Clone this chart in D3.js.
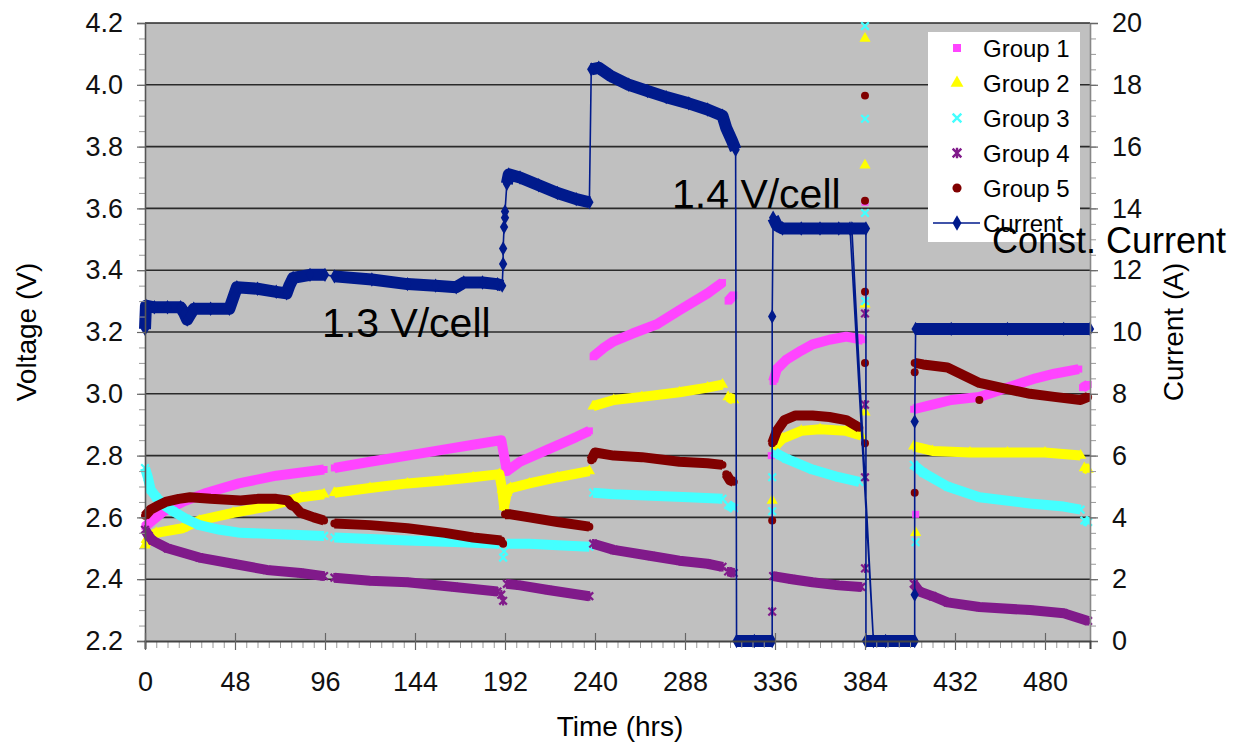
<!DOCTYPE html>
<meta charset="utf-8">
<title>Battery groups: voltage and current vs time</title>
<style>
  body { margin: 0; background: #fff; }
  svg { font-family: "Liberation Sans", Arial, sans-serif; }
</style>
<body>
<div id="chart"></div>
<script src="https://cdn.jsdelivr.net/npm/d3@7"></script>
<script>
// ---- data (hours, volts / amps) ----
const groupNames = ["Group 1", "Group 2", "Group 3", "Group 4", "Group 5"];

const group1Segments = [
  [[0,2.57],[4,2.59],[10,2.62],[20,2.65],[33,2.68],[50,2.71],[70,2.735],[95.5,2.755]],
  [[101,2.76],[120,2.78],[140,2.80],[160,2.82],[175,2.835],[190,2.85],[191.5,2.80],[193,2.75],[200,2.78],[215,2.82],[230,2.86],[237,2.88]],
  [[239,3.12],[245,3.15],[250,3.17],[260,3.195],[273,3.225],[285,3.27],[300,3.325],[308,3.36]],
  [[311,3.30],[314,3.32]],
  [[335,3.04],[337,3.08],[342,3.11],[350,3.14],[356,3.16],[365,3.175],[374,3.185],[383,3.175]],
  [[410,2.95],[420,2.965],[430,2.98],[445,2.99],[455,3.01],[465,3.03],[475,3.05],[485,3.065],[498,3.08]],
  [[500,3.02],[503,3.03]]
];
const group1Singles = [[334,2.80],[384,3.62],[411,2.61]];

const group2Segments = [
  [[0,2.51],[3,2.54],[6,2.55],[20,2.565],[29,2.59],[47,2.615],[65,2.635],[83,2.665],[95.5,2.675]],
  [[101,2.68],[120,2.695],[140,2.71],[160,2.72],[175,2.73],[189,2.74],[190.5,2.69],[191.5,2.635],[193,2.68],[195,2.695],[205,2.71],[220,2.73],[237,2.75]],
  [[239,2.96],[250,2.98],[265,2.99],[285,3.005],[300,3.02],[308,3.03]],
  [[311,2.99],[314,2.98]],
  [[336,2.83],[340,2.855],[350,2.88],[360,2.885],[374,2.88],[382,2.865]],
  [[410,2.83],[420,2.815],[440,2.81],[460,2.81],[480,2.81],[499,2.80]],
  [[501,2.76],[503,2.755]]
];
const group2Singles = [[334.5,2.655],[384,4.15],[384,3.74],[384,3.29],[384,2.94],[411,2.55]];

const group3Segments = [
  [[0,2.76],[1.5,2.73],[3,2.69],[6,2.665],[10,2.64],[15,2.62],[22,2.595],[29,2.575],[40,2.56],[51,2.55],[75,2.545],[95.5,2.54]],
  [[101,2.535],[120,2.53],[140,2.525],[165,2.52],[189,2.515]],
  [[193,2.515],[205,2.515],[220,2.51],[237,2.505]],
  [[239,2.68],[250,2.675],[270,2.67],[290,2.665],[308,2.66]],
  [[311,2.64],[314,2.63]],
  [[336,2.81],[342,2.79],[356,2.755],[370,2.73],[381,2.715]],
  [[410,2.77],[415,2.745],[428,2.70],[445,2.665],[472,2.645],[490,2.635],[499,2.625]],
  [[501,2.59],[503,2.585]]
];
const group3Singles = [[191,2.47],[191.5,2.49],[334.5,2.73],[334.5,2.62],[384,4.19],[384,3.89],[384,3.585],[384,3.30],[411,2.52]];

const group4Segments = [
  [[0,2.56],[2,2.54],[4,2.525],[12,2.50],[29,2.47],[47,2.45],[65,2.43],[83,2.42],[95.5,2.41]],
  [[101,2.405],[120,2.395],[140,2.39],[165,2.375],[188,2.36]],
  [[193,2.385],[200,2.38],[215,2.365],[237,2.345]],
  [[239,2.515],[250,2.495],[270,2.475],[285,2.46],[300,2.45],[308,2.44]],
  [[311,2.425],[314,2.42]],
  [[335,2.41],[345,2.40],[356,2.39],[370,2.38],[382,2.375]],
  [[410,2.385],[413,2.36],[420,2.345],[428,2.325],[445,2.31],[472,2.30],[490,2.29],[503,2.265]]
];
const group4Singles = [[190,2.35],[191,2.33],[334.5,2.295],[384,3.26],[384,2.965],[384,2.73],[384,2.435]];

const group5Segments = [
  [[0,2.605],[3,2.625],[6,2.635],[11,2.65],[18,2.66],[24,2.665],[35,2.66],[51,2.655],[60,2.66],[70,2.66],[76,2.655],[78,2.64],[80,2.635],[83,2.615],[90,2.60],[95.5,2.59]],
  [[101,2.58],[120,2.575],[140,2.565],[160,2.55],[175,2.535],[190,2.525]],
  [[192,2.61],[195,2.61],[205,2.60],[220,2.585],[237,2.57]],
  [[238,2.785],[240,2.81],[250,2.80],[265,2.795],[285,2.78],[300,2.775],[308,2.77]],
  [[310,2.74],[312,2.72],[314,2.715]],
  [[334.5,2.84],[337,2.88],[341,2.915],[347,2.93],[356,2.93],[365,2.925],[374,2.915],[381,2.89]],
  [[410.5,3.10],[415,3.095],[428,3.085],[445,3.035],[460,3.015],[472,3.00],[485,2.99],[499,2.98],[503,2.99]]
];
const group5Singles = [[191,2.515],[334.5,2.59],[384,3.965],[384,3.625],[384,3.33],[384,3.10],[384,2.84],[410.5,2.68],[410.5,3.07],[445,2.98]];

// current, in recorded order (single points are the transitions)
const currentSegments = [
  [[0,10.1],[0.5,10.85],[5,10.8],[12,10.8],[19,10.8],[21,10.6],[22.5,10.4],[24,10.55],[26,10.75],[35,10.75],[45,10.75],[47,11.1],[49,11.45],[60,11.4],[70,11.3],[75.5,11.25],[77,11.5],[79,11.75],[88,11.85],[96,11.85]],
  [[101,11.8],[121,11.7],[140,11.55],[155,11.5],[166,11.45],[170,11.6],[180,11.6],[188,11.55],[190.5,11.5]],
  [[191,12.2]], [[191,12.7]], [[191.5,13.4]], [[192,13.7]], [[192,13.9]],
  [[193,14.8],[194,15.1],[200,15.0],[210,14.75],[220,14.5],[230,14.3],[237,14.2]],
  [[238,18.5],[242,18.55],[248,18.3],[258,18.0],[268,17.8],[278,17.6],[290,17.4],[300,17.2],[308,17.0],[310,16.6],[313,16.2],[315,15.9]],
  [[315.5,0],[325,0],[334.5,0]],
  [[334.5,10.5]],
  [[335,13.7],[337,13.45],[340,13.35],[350,13.35],[360,13.35],[370,13.35],[376,13.35]],
  [[388.5,0]],
  [[377,13.35],[384.5,13.35]],
  [[384.5,0],[395,0],[410.5,0]],
  [[410.5,1.5]], [[410.5,7.1]],
  [[411,10.1],[430,10.1],[460,10.1],[490,10.1],[504,10.1]]
];

const xTicks = d3.range(0, 481, 48);
const voltTicks = d3.range(2.2, 4.21, 0.2);
const ampTicks = d3.range(0, 21, 2);

// ---- layout ----
const width = 1235, height = 743;
const plotLeft = 145, plotRight = 1090, plotTop = 23, plotBottom = 641;

const x = d3.scaleLinear([0, 504], [plotLeft, plotRight]);
const yV = d3.scaleLinear([2.2, 4.2], [plotBottom, plotTop]);
const yC = d3.scaleLinear([0, 20], [plotBottom, plotTop]);

const svg = d3.select("#chart").append("svg")
  .attr("width", width)
  .attr("height", height);

svg.append("rect")
  .attr("x", plotLeft).attr("y", plotTop)
  .attr("width", plotRight - plotLeft).attr("height", plotBottom - plotTop)
  .attr("fill", "#c0c0c0");

// grid
svg.append("g").selectAll("line")
  .data(voltTicks.slice(1))
  .join("line")
  .attr("x1", plotLeft).attr("x2", plotRight)
  .attr("y1", d => yV(d)).attr("y2", d => yV(d))
  .attr("stroke", "#2a2a2a").attr("stroke-width", 1.6);

// symbols
const xPath = r => `M${-r},${-r}L${r},${r}M${-r},${r}L${r},${-r}`;
const starPath = r => xPath(r) + `M0,${-r * 1.2}L0,${r * 1.2}`;
const symbols = [
  { path: s => d3.symbol(d3.symbolSquare, 49 * s)(), stroke: false },
  { path: s => d3.symbol(d3.symbolTriangle, 55 * s)(), stroke: false },
  { path: s => xPath(3.8 * Math.sqrt(s)), stroke: true },
  { path: s => starPath(3.8 * Math.sqrt(s)), stroke: true },
  { path: s => d3.symbol(d3.symbolCircle, 50 * s)(), stroke: false }
];
const colors = ["#ff44ff", "#ffff00", "#44ffff", "#801a8a", "#800000"];
const currentColor = "#001a8c";

const groups = [
  { segments: group1Segments, singles: group1Singles },
  { segments: group2Segments, singles: group2Singles },
  { segments: group3Segments, singles: group3Singles },
  { segments: group4Segments, singles: group4Singles },
  { segments: group5Segments, singles: group5Singles }
].map((g, i) => ({ ...g, name: groupNames[i], color: colors[i], symbol: symbols[i] }));

const lineV = d3.line().x(d => x(d[0])).y(d => yV(d[1]));
const lineC = d3.line().x(d => x(d[0])).y(d => yC(d[1]));

const data = svg.append("g");

groups.forEach(g => {
  const gg = data.append("g");
  gg.selectAll("path.band")
    .data(g.segments)
    .join("path")
    .attr("class", "band")
    .attr("d", lineV)
    .attr("fill", "none")
    .attr("stroke", g.color)
    .attr("stroke-width", 10)
    .attr("stroke-linejoin", "round");
  const pts = g.segments.flat().concat(g.singles);
  gg.selectAll("path.mark")
    .data(pts)
    .join("path")
    .attr("class", "mark")
    .attr("transform", d => `translate(${x(d[0])},${yV(d[1])})`)
    .attr("d", g.symbol.path(1))
    .attr("fill", g.symbol.stroke ? "none" : g.color)
    .attr("stroke", g.symbol.stroke ? g.color : "none")
    .attr("stroke-width", 2.2);
});

// current (secondary axis)
const cur = data.append("g");
cur.append("path")
  .attr("d", lineC(currentSegments.flat()))
  .attr("fill", "none")
  .attr("stroke", currentColor)
  .attr("stroke-width", 1.6);
cur.selectAll("path.band")
  .data(currentSegments.filter(s => s.length > 1))
  .join("path")
  .attr("class", "band")
  .attr("d", lineC)
  .attr("fill", "none")
  .attr("stroke", currentColor)
  .attr("stroke-width", 12)
  .attr("stroke-linejoin", "round");
cur.selectAll("path.mark")
  .data(currentSegments.flat())
  .join("path")
  .attr("class", "mark")
  .attr("transform", d => `translate(${x(d[0])},${yC(d[1])})`)
  .attr("d", d3.symbol(d3.symbolDiamond, 60)())
  .attr("fill", currentColor);

// ---- axes ----
const fmt1 = d3.format(".1f");

const leftMinor = svg.append("g")
  .attr("transform", `translate(${plotLeft},0)`)
  .call(d3.axisLeft(yV).tickValues(d3.range(2.2, 4.21, 0.05)).tickSize(6).tickFormat(""));
leftMinor.select(".domain").remove();
leftMinor.selectAll("line").attr("stroke", "#999");

const leftAxis = svg.append("g")
  .attr("transform", `translate(${plotLeft},0)`)
  .call(d3.axisLeft(yV).tickValues(voltTicks).tickFormat(fmt1).tickSize(8).tickPadding(14));

const rightMinor = svg.append("g")
  .attr("transform", `translate(${plotRight},0)`)
  .call(d3.axisRight(yC).tickValues(d3.range(0, 20.1, 0.5)).tickSize(6).tickFormat(""));
rightMinor.select(".domain").remove();
rightMinor.selectAll("line").attr("stroke", "#999");

const rightAxis = svg.append("g")
  .attr("transform", `translate(${plotRight},0)`)
  .call(d3.axisRight(yC).tickValues(ampTicks).tickSize(8).tickPadding(14));

const bottomMinor = svg.append("g")
  .attr("transform", `translate(0,${plotBottom})`)
  .call(d3.axisBottom(x).tickValues(d3.range(0, 505, 6)).tickSize(7).tickFormat(""));
bottomMinor.select(".domain").remove();
bottomMinor.selectAll("line").attr("stroke", "#999");

const bottomAxis = svg.append("g")
  .attr("transform", `translate(0,${plotBottom})`)
  .call(d3.axisBottom(x).tickValues(xTicks).tickSize(8).tickPadding(23));
bottomAxis.selectAll(".tick line").attr("y1", -8).attr("y2", 9);

[leftAxis, rightAxis, bottomAxis].forEach(a => {
  a.selectAll("text").attr("font-size", 27).attr("fill", "#111")
    .attr("font-family", '"Liberation Sans", Arial, sans-serif');
  a.selectAll("line").attr("stroke", "#666").attr("stroke-width", 1.2);
  a.select(".domain").attr("stroke", "#555").attr("stroke-width", 1.6);
});
rightAxis.select(".domain").attr("stroke", "#888");
bottomAxis.select(".domain").attr("stroke", "#444").attr("stroke-width", 2);

// axis titles
svg.append("text")
  .attr("transform", `translate(36,332) rotate(-90)`)
  .attr("text-anchor", "middle")
  .attr("font-size", 28)
  .text("Voltage (V)");
svg.append("text")
  .attr("transform", `translate(1183,332) rotate(-90)`)
  .attr("text-anchor", "middle")
  .attr("font-size", 28)
  .text("Current (A)");
svg.append("text")
  .attr("x", 620).attr("y", 736)
  .attr("text-anchor", "middle")
  .attr("font-size", 28)
  .text("Time (hrs)");

// ---- legend ----
const legend = svg.append("g");
legend.append("rect")
  .attr("x", 928).attr("y", 32)
  .attr("width", 152).attr("height", 210)
  .attr("fill", "#fff");
const rowY = i => 48 + i * 35;
groups.forEach((g, i) => {
  legend.append("path")
    .attr("transform", `translate(957,${rowY(i)})`)
    .attr("d", g.symbol.path(1.3))
    .attr("fill", g.symbol.stroke ? "none" : g.color)
    .attr("stroke", g.symbol.stroke ? g.color : "none")
    .attr("stroke-width", 2.4);
  legend.append("text")
    .attr("x", 983).attr("y", rowY(i)).attr("dy", "0.36em")
    .attr("font-size", 24)
    .text(g.name);
});
legend.append("line")
  .attr("x1", 933).attr("x2", 980)
  .attr("y1", rowY(5)).attr("y2", rowY(5))
  .attr("stroke", currentColor).attr("stroke-width", 1.6);
legend.append("path")
  .attr("transform", `translate(957,${rowY(5)})`)
  .attr("d", d3.symbol(d3.symbolDiamond, 70)())
  .attr("fill", currentColor);
legend.append("text")
  .attr("x", 983).attr("y", rowY(5)).attr("dy", "0.36em")
  .attr("font-size", 24)
  .text("Current");

// ---- annotations (drawn over the legend, as in the original) ----
svg.append("text").attr("x", 322).attr("y", 337).attr("font-size", 41).text("1.3 V/cell");
svg.append("text").attr("x", 672).attr("y", 208).attr("font-size", 41).text("1.4 V/cell");
svg.append("text").attr("x", 992).attr("y", 253).attr("font-size", 36).text("Const. Current");
</script>
</body>
